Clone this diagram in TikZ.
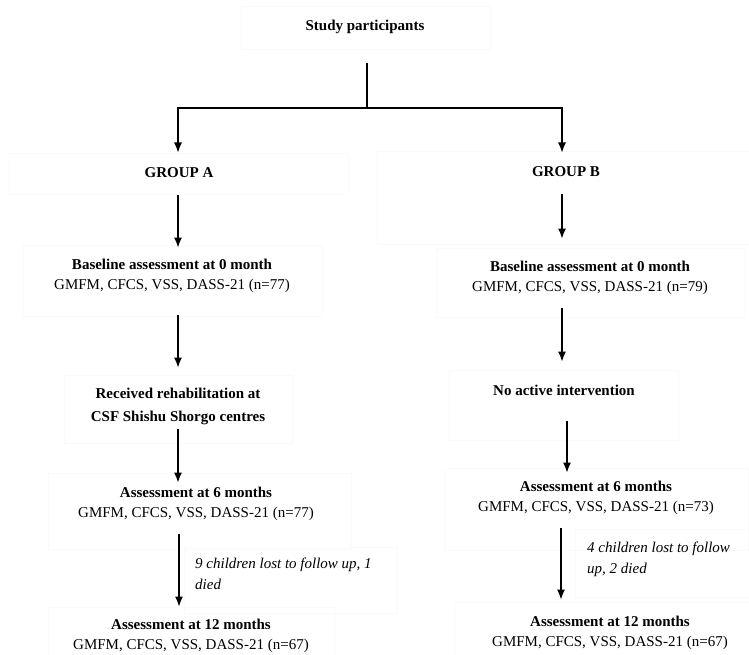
\documentclass[tikz,border=0pt]{standalone}
\usepackage{fontspec}
\setmainfont{Liberation Serif}
\usepackage{tikz}
\usetikzlibrary{arrows.meta,calc}

\begin{document}
\begin{tikzpicture}[x=1pt,y=-1pt,
  box/.style={draw=gray!4,line width=1pt,inner sep=0pt},
  txt/.style={inner sep=0pt,align=center,font=\fontsize{15}{20}\selectfont},
  note/.style={inner sep=0pt,align=left,font=\fontsize{15}{21}\selectfont\itshape},
  arr/.style={line width=1.2pt,-{Latex[length=10pt,width=8pt]}},
  line/.style={line width=1.2pt}
  ]
    \fill[white] (0,0) rectangle (749,655);
    \useasboundingbox (0,0) rectangle (749,655);

    \node[box,minimum width=249pt,minimum height=43pt] (spbox) at (365.5,28.5) {};
    \node[box,minimum width=339pt,minimum height=41pt] (gAbox) at (178.5,174.5) {};
    \node[box,minimum width=376pt,minimum height=92pt] (gBbox) at (565,198) {};
    \node[box,minimum width=299pt,minimum height=71pt] (b0Abox) at (172.5,280.5) {};
    \node[box,minimum width=309pt,minimum height=69pt] (b0Bbox) at (590.5,282.5) {};
    \node[box,minimum width=228pt,minimum height=68pt] (recAbox) at (178,409) {};
    \node[box,minimum width=229pt,minimum height=70pt] (noBbox) at (563.5,405) {};
    \node[box,minimum width=303pt,minimum height=76pt] (a6Abox) at (199.5,511) {};
    \node[box,minimum width=304pt,minimum height=82pt] (a6Bbox) at (596,509) {};
    \node[box,minimum width=213pt,minimum height=66pt] (labAbox) at (290.5,580) {};
    \node[box,minimum width=175pt,minimum height=68pt] (labBbox) at (663,563) {};
    \node[box,minimum width=286pt,minimum height=58pt] (a12Abox) at (191,636) {};
    \node[box,minimum width=297pt,minimum height=63pt] (a12Bbox) at (602.5,633.5) {};

    \node[txt] (sp) at (365,27) {\textbf{Study participants}};
    \node[txt] (gA) at (179,173) {\textbf{GROUP A}};
    \node[txt] (gB) at (566,172) {\textbf{GROUP B}};
    \node[txt,anchor=north] (b0A) at (172,259) {\textbf{Baseline assessment at 0 month}\\GMFM, CFCS, VSS, DASS-21 (n=77)};
    \node[txt,anchor=north] (b0B) at (590,261) {\textbf{Baseline assessment at 0 month}\\GMFM, CFCS, VSS, DASS-21 (n=79)};
    \node[txt,anchor=north] (recA) at (178,388) {\textbf{Received rehabilitation at}\\[3pt]\textbf{CSF Shishu Shorgo centres}};
    \node[txt] (noB) at (564,390) {\textbf{No active intervention}};
    \node[txt,anchor=north] (a6A) at (196,487) {\textbf{Assessment at 6 months}\\GMFM, CFCS, VSS, DASS-21 (n=77)};
    \node[txt,anchor=north] (a6B) at (596,481) {\textbf{Assessment at 6 months}\\GMFM, CFCS, VSS, DASS-21 (n=73)};
    \node[note,anchor=north west] (labA) at (195,558) {9 children lost to follow up, 1\\died};
    \node[note,anchor=north west] (labB) at (587,542) {4 children lost to follow\\up, 2 died};
    \node[txt,anchor=north] (a12A) at (191,619) {\textbf{Assessment at 12 months}\\GMFM, CFCS, VSS, DASS-21 (n=67)};
    \node[txt,anchor=north] (a12B) at (610,616) {\textbf{Assessment at 12 months}\\GMFM, CFCS, VSS, DASS-21 (n=67)};

    \coordinate (colA) at (178,0);
    \coordinate (colB) at (562,0);
    \coordinate (split) at (367,108);

    \draw[line] ($(spbox.south)+(1.5,13)$) -- (split);
    \draw[arr] (split) -| ($(colA |- gAbox.north)+(0,-1)$);
    \draw[arr] (split) -| ($(colB |- gBbox.north)+(0,1)$);
    \draw[arr] (colA |- gAbox.south) -- ($(colA |- b0Abox.north)+(0,3)$);
    \draw[arr] ($(colB |- gBbox.north)+(0,43)$) -- ($(colB |- b0Bbox.north)+(0,-9)$);
    \draw[arr] ($(colA |- b0Abox.south)+(0,-2)$) -- ($(colA |- recAbox.north)+(0,-7)$);
    \draw[arr] ($(colB |- b0Bbox.south)+(0,-10)$) -- ($(colB |- noBbox.north)+(0,-8)$);
    \draw[arr] ($(colA |- recAbox.south)+(0,-15)$) -- ($(colA |- a6Abox.north)+(0,10)$);
    \draw[arr] ($(colB |- noBbox.south)+(5,-20)$) -- ($(colB |- a6Bbox.north)+(5,5)$);
    \draw[arr] ($(colA |- a6Abox.south)+(1,-16)$) -- ($(colA |- a12Abox.north)+(1,0)$);
    \draw[arr] ($(colB |- a6Bbox.south)+(-1,-23)$) -- ($(colB |- a12Bbox.north)+(-1,-2)$);
\end{tikzpicture}
\end{document}
